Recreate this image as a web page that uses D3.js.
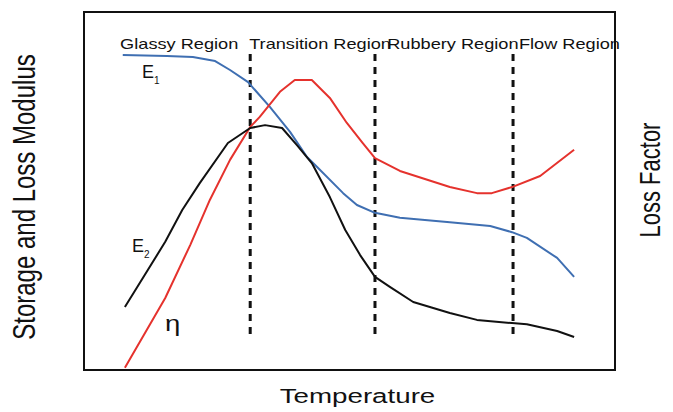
<!DOCTYPE html>
<html>
<head>
<meta charset="utf-8">
<script src="https://cdn.jsdelivr.net/npm/d3@7"></script>
<style>
  html, body { margin: 0; padding: 0; background: #fff; }
  svg { display: block; }
  text { font-family: "Liberation Sans", Arial, Helvetica, sans-serif; fill: #111; }
</style>
</head>
<body>
<svg id="chart" width="673" height="412"></svg>
<script>
// ---- data (temperature 0-100, relative value 0-100) ----
const e1Temp = [7.3, 15.6, 20.5, 24.7, 27.5, 30.9, 35.0, 38.8, 42.0, 43.9, 48.8, 51.4, 54.8, 59.5, 68.9, 76.5, 80.6, 83.4, 89.1, 92.3];
const e1Vals = [88.0, 87.7, 87.4, 86.3, 83.8, 80.4, 73.5, 66.5, 59.5, 56.7, 49.4, 46.1, 43.9, 42.5, 41.3, 40.2, 38.5, 36.9, 31.3, 26.0];

const etaTemp = [7.7, 15.3, 20.0, 23.7, 27.5, 31.3, 33.1, 36.9, 39.7, 42.9, 46.3, 49.5, 52.5, 54.8, 59.5, 68.9, 74.0, 76.8, 80.6, 85.9, 92.3];
const etaVals = [0.6, 20.1, 34.9, 47.5, 58.7, 67.9, 70.7, 77.7, 81.0, 81.0, 76.0, 69.0, 63.4, 59.2, 55.6, 51.1, 49.4, 49.4, 51.1, 54.2, 61.5];

const e2Temp = [7.7, 15.3, 18.5, 21.8, 27.1, 31.3, 34.1, 37.3, 40.1, 42.9, 46.3, 49.2, 52.0, 54.8, 57.6, 62.0, 68.9, 74.0, 80.6, 83.4, 89.1, 92.3];
const e2Vals = [17.6, 35.8, 44.7, 52.2, 63.4, 67.6, 68.4, 67.6, 62.8, 57.8, 48.3, 39.1, 32.1, 26.0, 23.2, 19.0, 15.9, 14.0, 13.1, 12.8, 10.9, 9.2];

const regionNames = ["Glassy Region", "Transition Region", "Rubbery Region", "Flow Region"];
const regionStarts = [6.8, 31.1, 57.1, 81.9];
const boundaries = [31.3, 54.8, 80.8];
const boundaryRange = [8.9, 88.3];

const xTitle = "Temperature";
const yTitle = "Storage and Loss Modulus";
const y2Title = "Loss Factor";

// ---- layout ----
const svg = d3.select("#chart");
const x = d3.scaleLinear().domain([0, 100]).range([84, 615]);
const y = d3.scaleLinear().domain([0, 100]).range([370, 12]);
const stretch = 1.3;

// frame
svg.append("rect")
  .attr("x", x(0)).attr("y", y(100))
  .attr("width", x(100) - x(0)).attr("height", y(0) - y(100))
  .attr("fill", "none").attr("stroke", "#111").attr("stroke-width", 2);

// dashed region boundaries
svg.selectAll("line.bound").data(boundaries).enter().append("line")
  .attr("class", "bound")
  .attr("x1", d => x(d)).attr("x2", d => x(d))
  .attr("y1", y(boundaryRange[1])).attr("y2", y(boundaryRange[0]))
  .attr("stroke", "#111").attr("stroke-width", 3)
  .attr("stroke-dasharray", "7,6");

// curves
const line = d3.line().x(d => x(d[0])).y(d => y(d[1]));
const series = [
  { t: e1Temp, v: e1Vals, color: "#3f6fb2" },
  { t: etaTemp, v: etaVals, color: "#e5322d" },
  { t: e2Temp, v: e2Vals, color: "#111111" }
];
series.forEach(s => {
  svg.append("path")
    .datum(d3.zip(s.t, s.v))
    .attr("d", line)
    .attr("fill", "none")
    .attr("stroke", s.color)
    .attr("stroke-width", 2)
    .attr("stroke-linejoin", "round");
});

// region labels
regionNames.forEach((name, i) => {
  svg.append("text")
    .attr("transform", `translate(${x(regionStarts[i])},49) scale(${stretch},1)`)
    .attr("font-size", 14)
    .text(name);
});

// curve labels
function subLabel(px, py, main, sub) {
  const t = svg.append("text").attr("x", px).attr("y", py).attr("font-size", 18);
  t.append("tspan").text(main);
  t.append("tspan").attr("font-size", 10).attr("dy", 6).text(sub);
}
subLabel(142, 78, "E", "1");
subLabel(132, 252, "E", "2");
svg.append("text")
  .attr("transform", `translate(165,331) scale(1.25,1)`)
  .attr("font-size", 22)
  .text("η");

// axis titles
svg.append("text")
  .attr("transform", `translate(357.5,403) scale(1.32,1)`)
  .attr("text-anchor", "middle")
  .attr("font-size", 21)
  .text(xTitle);
svg.append("text")
  .attr("transform", `translate(35,197) scale(${stretch},1) rotate(-90)`)
  .attr("text-anchor", "middle")
  .attr("font-size", 24)
  .text(yTitle);
svg.append("text")
  .attr("transform", `translate(660,180) scale(${stretch},1) rotate(-90)`)
  .attr("text-anchor", "middle")
  .attr("font-size", 22)
  .text(y2Title);
</script>
</body>
</html>
